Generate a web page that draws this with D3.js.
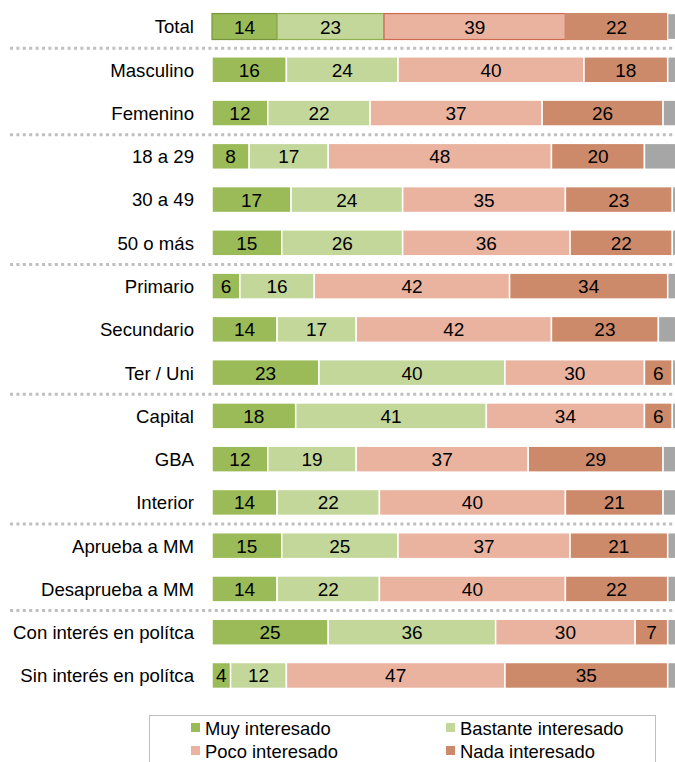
<!DOCTYPE html>
<html>
<head>
<meta charset="utf-8">
<script src="https://cdn.jsdelivr.net/npm/d3@7"></script>
<style>
  html, body { margin: 0; padding: 0; background: #fff; }
  svg { display: block; font-family: "Liberation Sans", Arial, sans-serif; }
</style>
</head>
<body>
<svg id="chart" width="675" height="762"></svg>
<script>
const categories = ["Total","Masculino","Femenino","18 a 29","30 a 49","50 o más","Primario","Secundario","Ter / Uni","Capital","GBA","Interior","Aprueba a MM","Desaprueba a MM","Con interés en polítca","Sin interés en polítca"];
const seriesNames = ["Muy interesado","Bastante interesado","Poco interesado","Nada interesado"];
const muy      = [14,16,12, 8,17,15, 6,14,23,18,12,14,15,14,25, 4];
const bastante = [23,24,22,17,24,26,16,17,40,41,19,22,25,22,36,12];
const poco     = [39,40,37,48,35,36,42,42,30,34,37,40,37,40,30,47];
const nada     = [22,18,26,20,23,22,34,23, 6, 6,29,21,21,22, 7,35];
const separatorsAfter = ["Total","Femenino","50 o más","Ter / Uni","Interior","Desaprueba a MM"];
const xTicks = [0,100];

const colors = ["#9BBB59","#C4D79B","#E9B39F","#CD8A6A","#A6A6A6"];
const totalStrokes = ["#77933C","#8FB050","#CF6B55","#CD8A6A",null];

const svg = d3.select("#chart");
const x = d3.scaleLinear().domain(xTicks).range([212, 677]);
const y = d3.scaleBand().domain(categories).range([4.9, 697.1]).paddingInner(0.4).paddingOuter(0.2);

const rows = categories.map((c, i) => {
  const vals = [muy[i], bastante[i], poco[i], nada[i]];
  const rest = 100 - d3.sum(vals);
  vals.push(rest);
  let acc = 0;
  return vals.map((v, k) => { const s = {cat: c, k, v, x0: acc, x1: acc + v}; acc += v; return s; });
});

// separators
const sepG = svg.append("g");
separatorsAfter.forEach(c => {
  const i = categories.indexOf(c);
  const yy = (y(categories[i]) + y.bandwidth() + y(categories[i + 1])) / 2;
  sepG.append("line")
    .attr("x1", 10).attr("x2", 675).attr("y1", yy).attr("y2", yy)
    .attr("stroke", "#BFBFBF").attr("stroke-width", 3)
    .attr("stroke-dasharray", "3,3.4");
});

// bars
const rowG = svg.append("g").selectAll("g").data(rows).join("g");
rowG.selectAll("rect").data(d => d).join("rect")
  .attr("x", d => x(d.x0))
  .attr("y", d => y(d.cat))
  .attr("width", d => Math.max(0, x(d.x1) - x(d.x0)))
  .attr("height", y.bandwidth())
  .attr("fill", d => colors[d.k])
  .attr("stroke", d => d.cat === "Total" ? (totalStrokes[d.k] || "#fff") : "#fff")
  .attr("stroke-width", d => d.cat === "Total" ? 1.2 : 1.5);

rowG.selectAll("text").data(d => d.filter(s => s.k < 4)).join("text")
  .attr("x", d => (x(d.x0) + x(d.x1)) / 2)
  .attr("y", d => y(d.cat) + y.bandwidth() / 2)
  .attr("dy", "0.37em")
  .attr("text-anchor", "middle")
  .attr("font-size", 19)
  .attr("fill", "#000")
  .text(d => d.v);

// category axis
const yAxis = svg.append("g").attr("transform", "translate(194,0)")
  .call(d3.axisLeft(y).tickSize(0).tickPadding(0));
yAxis.select(".domain").remove();
yAxis.selectAll("text").attr("font-size", 18.6).attr("fill", "#000")
  .attr("font-family", "'Liberation Sans', Arial, sans-serif").attr("dy", "0.37em");

// legend
const lg = svg.append("g");
lg.append("rect").attr("x", 149.5).attr("y", 715.5).attr("width", 506).attr("height", 60)
  .attr("fill", "#fff").attr("stroke", "#BFBFBF").attr("stroke-width", 1);
const legPos = [[191, 735],[446, 735],[191, 758],[446, 758]];
seriesNames.forEach((n, i) => {
  const [lx, ly] = legPos[i];
  lg.append("rect").attr("x", lx).attr("y", ly - 12).attr("width", 9).attr("height", 9)
    .attr("fill", colors[i]);
  lg.append("text").attr("x", lx + 14).attr("y", ly).attr("font-size", 18.4).attr("fill", "#000").text(n);
});
</script>
</body>
</html>
